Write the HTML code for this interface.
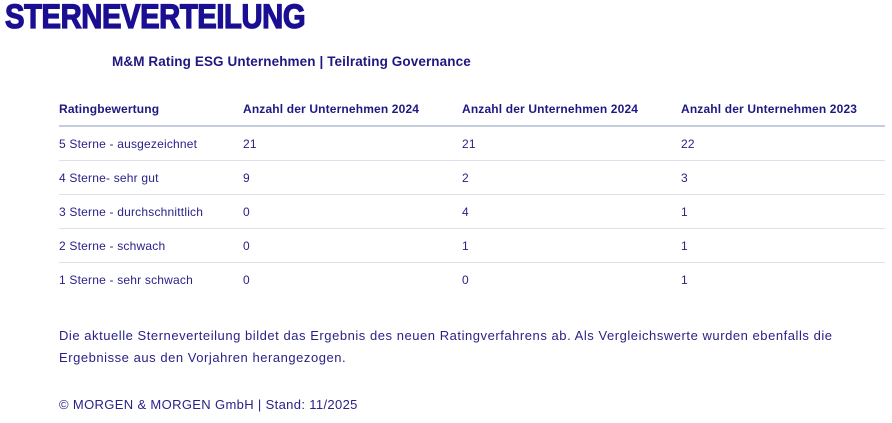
<!DOCTYPE html>
<html><head><meta charset="utf-8"><style>
body{margin:0;width:892px;height:423px;background:#fff;font-family:"Liberation Sans",sans-serif;color:#2a2288;position:relative;overflow:hidden}
.t{position:absolute;left:5px;top:-2px;font-size:34px;font-weight:900;color:#1a0f92;transform:scaleX(0.86);transform-origin:left top;letter-spacing:-0.5px;-webkit-text-stroke:1.3px #1a0f92}
.s{position:absolute;left:112px;top:54px;font-size:13.5px;font-weight:bold;color:#1f1880;letter-spacing:0.1px}
.tb{position:absolute;left:59px;top:92px;width:826px;border-collapse:collapse;font-size:12px;letter-spacing:0.2px}
.tb td,.tb th{text-align:left;padding:0;height:33px;border-bottom:1px solid #dde0ea;font-weight:normal}
.tb th{font-weight:bold;border-bottom:2px solid #c5cce0;color:#1f1880;height:33px;letter-spacing:0.15px;vertical-align:middle}
.tb tr:last-child td{border-bottom:none}
.c1{width:184px}.c2{width:219px}.c3{width:219px}
.p{position:absolute;left:59px;top:325px;font-size:13px;line-height:22px;width:830px;letter-spacing:0.54px}
.f{position:absolute;left:59px;top:397px;font-size:13px;letter-spacing:0.35px}
</style></head><body>
<div class="t">STERNEVERTEILUNG</div>
<div class="s">M&amp;M Rating ESG Unternehmen | Teilrating Governance</div>
<table class="tb">
<tr><th class="c1">Ratingbewertung</th><th class="c2">Anzahl der Unternehmen 2024</th><th class="c3">Anzahl der Unternehmen 2024</th><th>Anzahl der Unternehmen 2023</th></tr>
<tr><td>5 Sterne - ausgezeichnet</td><td>21</td><td>21</td><td>22</td></tr>
<tr><td>4 Sterne- sehr gut</td><td>9</td><td>2</td><td>3</td></tr>
<tr><td>3 Sterne - durchschnittlich</td><td>0</td><td>4</td><td>1</td></tr>
<tr><td>2 Sterne - schwach</td><td>0</td><td>1</td><td>1</td></tr>
<tr><td>1 Sterne - sehr schwach</td><td>0</td><td>0</td><td>1</td></tr>
</table>
<div class="p">Die aktuelle Sterneverteilung bildet das Ergebnis des neuen Ratingverfahrens ab. Als Vergleichswerte wurden ebenfalls die<br>Ergebnisse aus den Vorjahren herangezogen.</div>
<div class="f">© MORGEN &amp; MORGEN GmbH | Stand: 11/2025</div>
</body></html>
